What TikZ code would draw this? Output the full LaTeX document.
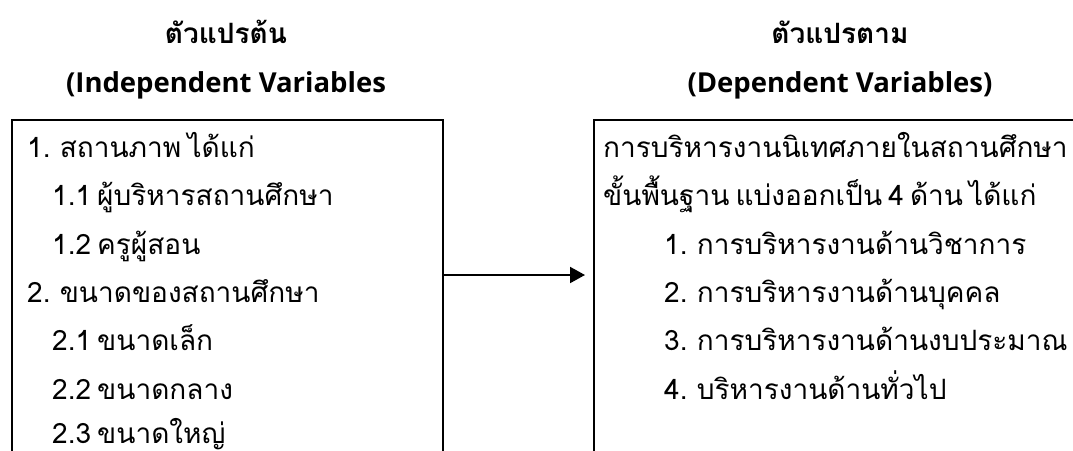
\documentclass[tikz,border=0pt]{standalone}
\usepackage{fontspec}
\setmainfont[Script=Thai,WordSpace=0.65]{Loma}
\newfontfamily\latinfont{Open Sans}
\usetikzlibrary{arrows.meta,calc}
\begin{document}
\begin{tikzpicture}[x=1pt,y=-1pt,
  box/.style={draw=black,line width=2pt,rectangle,anchor=north west,inner sep=0pt},
  title/.style={font=\fontsize{28}{32}\selectfont\bfseries,anchor=base,inner sep=0pt},
  ltitle/.style={font=\fontsize{27.5}{32}\selectfont\latinfont\bfseries,anchor=base,inner sep=0pt},
  body/.style={font=\fontsize{28}{32}\selectfont,anchor=base west,inner sep=0pt}]
\useasboundingbox (0,0) rectangle (1073,450);
\clip (0,0) rectangle (1073,450);
\fill[white] (0,0) rectangle (1073,450);
% titles
\node[title] (t1) at (226,43) {ตัวแปรต้น};
\node[ltitle] (t2) at (226,92) {(Independent Variables};
\node[title] (t3) at (840,43) {ตัวแปรตาม};
\node[ltitle] (t4) at (840,92) {(Dependent Variables)};
% boxes
\node[box,minimum width=431pt,minimum height=420pt] (lbox) at (11,119) {};
\node[box,minimum width=520pt,minimum height=420pt] (rbox) at (593,119) {};
% left lines
\node[body] (l1) at (27,157) {1. สถานภาพ ได้แก่};
\node[body] (l2) at (52,205.5) {1.1 ผู้บริหารสถานศึกษา};
\node[body] (l3) at (52,254) {1.2 ครูผู้สอน};
\node[body] (l4) at (27,302) {2. ขนาดของสถานศึกษา};
\node[body] (l5) at (52,350) {2.1 ขนาดเล็ก};
\node[body] (l6) at (52,399) {2.2 ขนาดกลาง};
\node[body] (l7) at (52,443) {2.3 ขนาดใหญ่};
% right lines
\node[body] (r1) at (603,157) {การบริหารงานนิเทศภายในสถานศึกษา};
\node[body] (r2) at (603,205.5) {ขั้นพื้นฐาน แบ่งออกเป็น 4 ด้าน ได้แก่};
\node[body] (r3) at (664,254) {1. การบริหารงานด้านวิชาการ};
\node[body] (r4) at (664,302) {2. การบริหารงานด้านบุคคล};
\node[body] (r5) at (664,350) {3. การบริหารงานด้านงบประมาณ};
\node[body] (r6) at (664,399) {4. บริหารงานด้านทั่วไป};
% arrow
\coordinate (a1) at ($(lbox.north east)+(0,156)$);
\coordinate (a2) at ($(rbox.north west)+(-8,156)$);
\draw[line width=2pt,-{Triangle[length=15pt,width=16pt]}] (a1) -- (a2);
\end{tikzpicture}
\end{document}
